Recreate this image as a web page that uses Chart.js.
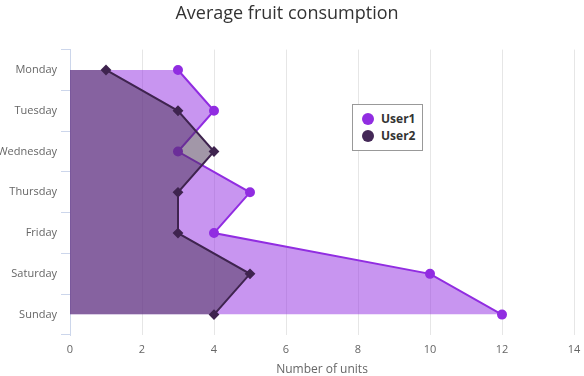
<!DOCTYPE html>
<html>
<head>
<meta charset="utf-8">
<script src="https://cdn.jsdelivr.net/npm/chart.js@4"></script>
<style>
  body { margin: 0; background: #fff; }
  #wrap { position: relative; width: 584px; height: 376px; }
  #legend {
    position: absolute; left: 352px; top: 104px; width: 69px; height: 45px;
    border: 1px solid #999; background: #fff; box-sizing: content-box;
    font-family: "Open Sans", sans-serif; font-size: 12px; font-weight: bold; color: #333;
  }
  #legend div { position: absolute; left: 28px; line-height: 14px; }
  #legend span { position: absolute; width: 12px; height: 12px; border-radius: 50%; left: 9px; }
</style>
</head>
<body>
<div id="wrap">
  <canvas id="chart" width="584" height="376"></canvas>
  <div id="legend">
    <span style="top:8px;background:#912de1"></span><div style="top:7px">User1</div>
    <span style="top:25px;background:#442857"></span><div style="top:24px">User2</div>
  </div>
</div>
<script>
const days = ['Monday', 'Tuesday', 'Wednesday', 'Thursday', 'Friday', 'Saturday', 'Sunday'];
const user1 = [3, 4, 3, 5, 4, 10, 12];
const user2 = [1, 3, 4, 3, 3, 5, 4];

const font = "'Open Sans', sans-serif";

new Chart(document.getElementById('chart'), {
    type: 'line',
    data: {
        labels: days,
        datasets: [{
            label: 'User1',
            data: user1,
            order: 2,
            borderColor: '#912de1',
            backgroundColor: 'rgba(145, 43, 225, 0.5)',
            pointBackgroundColor: '#912de1',
            pointBorderColor: '#912de1',
            pointRadius: 4,
            borderWidth: 2,
            fill: 'origin',
            tension: 0
        }, {
            label: 'User2',
            data: user2,
            order: 1,
            borderColor: '#3f244f',
            backgroundColor: 'rgba(70, 48, 82, 0.5)',
            pointBackgroundColor: '#3f244f',
            pointBorderColor: '#3f244f',
            pointStyle: 'rectRot',
            pointRadius: 4,
            borderWidth: 2,
            fill: 'origin',
            tension: 0
        }]
    },
    options: {
        indexAxis: 'y',
        responsive: false,
        animation: false,
        layout: { padding: { right: 10, bottom: 0 } },
        plugins: {
            legend: { display: false },
            tooltip: { enabled: false },
            title: {
                display: true,
                text: 'Average fruit consumption',
                color: '#333',
                font: { family: font, size: 18, weight: 'normal' },
                padding: { top: 3, bottom: 25 }
            }
        },
        scales: {
            x: {
                min: 0,
                max: 14,
                afterFit: function(scale) {
                    scale.height = 41;
                    scale.paddingRight = 0;
                },
                ticks: { stepSize: 2, color: '#666', padding: 8, font: { family: font, size: 11 } },
                grid: { color: '#e6e6e6', drawTicks: false },
                border: { display: false },
                title: {
                    display: true,
                    text: 'Number of units',
                    color: '#666',
                    font: { family: font, size: 12, lineHeight: 1 },
                    padding: { top: 8, bottom: 0 }
                }
            },
            y: {
                offset: true,
                afterFit: function(scale) { scale.width = 70; },
                ticks: { color: '#666', padding: 4, font: { family: font, size: 11 } },
                grid: { offset: true, drawOnChartArea: false, tickLength: 9, color: '#ccd6eb' },
                border: { display: true, color: '#ccd6eb' }
            }
        }
    }
});
</script>
</body>
</html>
